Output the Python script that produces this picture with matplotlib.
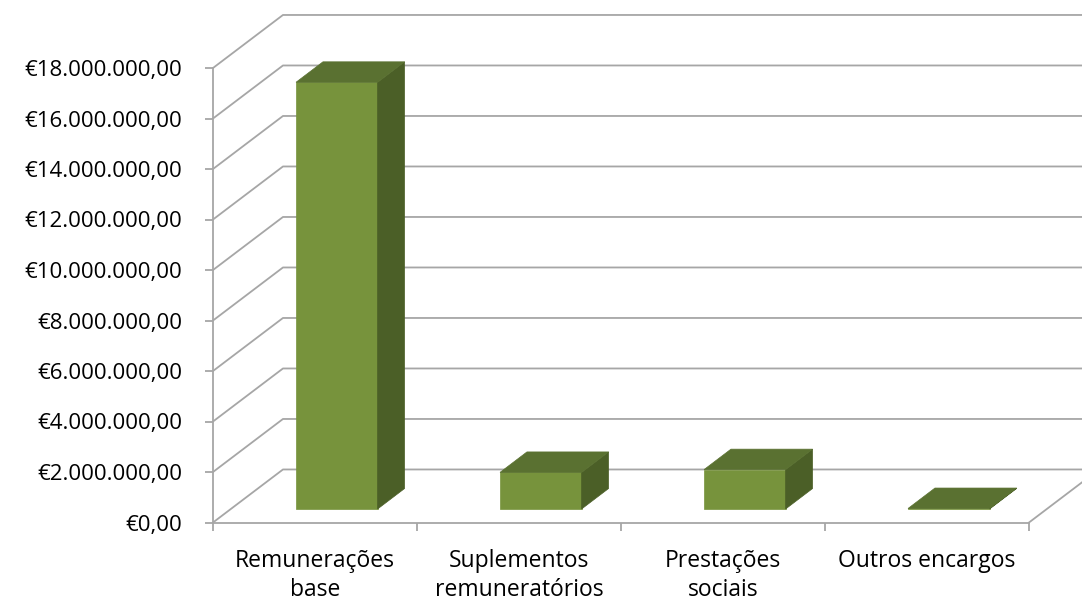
import matplotlib
matplotlib.use("Agg")
import matplotlib.pyplot as plt
from matplotlib.patches import Polygon

# Dados (valores em milhões de euros)
categories = ["Remunerações\nbase", "Suplementos\nremuneratórios",
              "Prestações\nsociais", "Outros encargos"]
values = [16.9, 1.45, 1.56, 0.02]
yticks = list(range(0, 19, 2))
ytick_labels = ["€{:,.2f}".format(v * 1_000_000).replace(",", "X")
                .replace(".", ",").replace("X", ".") for v in yticks]

# Estilo
plt.rcParams["font.family"] = ["Open Sans", "DejaVu Sans"]
GRID = "#a6a6a6"
FRONT = "#77933c"
TOP = "#5a7131"
SIDE = "#4b5f27"

# Profundidade 3D (oblíqua) em unidades de dados
DX = 0.343      # deslocamento em x (categorias) da parede de trás
DY = 2.1        # deslocamento em y (milhões) da parede de trás
FX, FY = 0.107, 0.535   # deslocamento da face frontal das barras
BX, BY = 0.132, 0.81    # profundidade das barras
W = 0.4

fig = plt.figure(figsize=(10.82, 6.03), dpi=100)
ax = fig.add_axes([213 / 1082, 80.5 / 603, 816 / 1082, 454.5 / 603])
ax.set_xlim(0, len(categories))
ax.set_ylim(0, 18)

# Grade: diagonal na parede esquerda + horizontal na parede de trás
for v in yticks:
    ax.plot([0, DX, len(categories) + DX], [v, v + DY, v + DY],
            color=GRID, lw=1.3, clip_on=False, zorder=1)
# lateral direita do chão
ax.plot([len(categories), len(categories) + DX], [0, DY],
        color=GRID, lw=1.3, clip_on=False, zorder=1)

# Barras 3D
for i, v in enumerate(values):
    c = i + 0.5
    x0 = c - W / 2 + FX
    x1 = c + W / 2 + FX
    y0 = FY
    front = [(x0, y0), (x1, y0), (x1, y0 + v), (x0, y0 + v)]
    top = [(x0, y0 + v), (x1, y0 + v), (x1 + BX, y0 + v + BY),
           (x0 + BX, y0 + v + BY)]
    side = [(x1, y0), (x1 + BX, y0 + BY), (x1 + BX, y0 + v + BY),
            (x1, y0 + v)]
    for pts, col in ((front, FRONT), (side, SIDE), (top, TOP)):
        ax.add_patch(Polygon(pts, closed=True, facecolor=col,
                             edgecolor=col, lw=0.5, zorder=3,
                             clip_on=False))

# Eixos
for s in ("top", "right"):
    ax.spines[s].set_visible(False)
for s in ("left", "bottom"):
    ax.spines[s].set_color(GRID)
    ax.spines[s].set_linewidth(1.3)

ax.set_yticks(yticks)
ax.set_yticklabels(ytick_labels)
ax.set_xticks(range(len(categories) + 1))
ax.set_xticklabels([])
ax.set_xticks([i + 0.5 for i in range(len(categories))], minor=True)
ax.set_xticklabels(categories, minor=True, linespacing=1.3)
ax.tick_params(axis="both", which="major", color=GRID, width=1.3,
               length=6, labelsize=16, labelcolor="black")
ax.tick_params(axis="y", pad=16)
ax.tick_params(axis="x", which="minor", length=0, labelsize=16.5,
               pad=19)
ax.patch.set_visible(False)

fig.savefig("out.png", dpi=100)
